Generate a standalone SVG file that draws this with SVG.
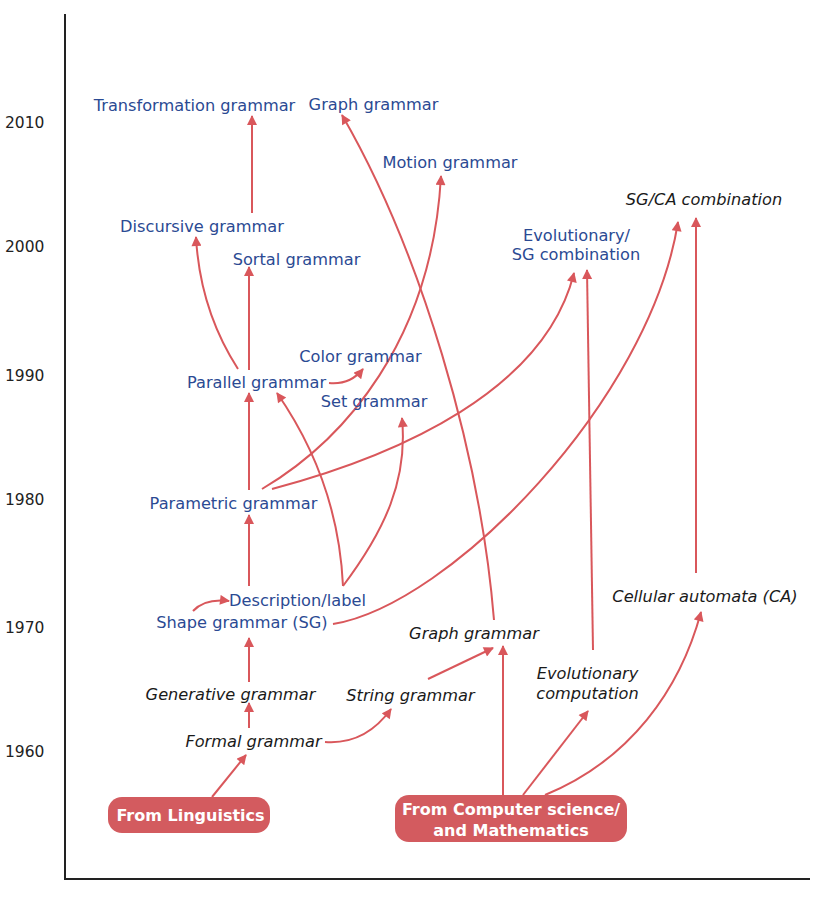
<svg xmlns="http://www.w3.org/2000/svg" width="830" height="898" viewBox="0 0 830 898">
<style>
.yr{font-family:"DejaVu Sans",Verdana,sans-serif;font-size:15.5px;fill:#222}
.b{font-family:"DejaVu Sans",Verdana,sans-serif;font-size:16.2px;fill:#2b4a93;text-anchor:middle}
.i{font-family:"DejaVu Sans",Verdana,sans-serif;font-size:16.2px;font-style:italic;fill:#1a1a1a;text-anchor:middle}
.w{font-family:"DejaVu Sans",Verdana,sans-serif;font-size:16px;font-weight:bold;fill:#fff;text-anchor:middle}
.box{fill:#d35b5f}
.c{fill:none;stroke:#d9575b;stroke-width:2;marker-end:url(#ah)}
.ax{stroke:#222;stroke-width:2;fill:none}
</style>
<defs>
<marker id="ah" viewBox="0 0 10 10" refX="9" refY="5" markerWidth="12" markerHeight="10" markerUnits="userSpaceOnUse" orient="auto">
<path d="M0,0 L10,5 L0,10 z" fill="#d9575b"/>
</marker>
</defs>
<g id="axes">
<path class="ax" d="M65,14 L65,879 L810,879"/>
<text class="yr" x="5" y="128">2010</text>
<text class="yr" x="5" y="252">2000</text>
<text class="yr" x="5" y="381">1990</text>
<text class="yr" x="5" y="505">1980</text>
<text class="yr" x="5" y="633">1970</text>
<text class="yr" x="5" y="757">1960</text>
</g>
<g id="connectors">
<path class="c" d="M212,797 L246,755"/>
<path class="c" d="M249,728 L249,703"/>
<path class="c" d="M249,682 L249,638"/>
<path class="c" d="M193,611 Q205,598 229,601"/>
<path class="c" d="M249,586 L249,515"/>
<path class="c" d="M249,490 L249,393"/>
<path class="c" d="M249,370 L249,267"/>
<path class="c" d="M238,369 Q200,310 196,237"/>
<path class="c" d="M252,213 L252,116"/>
<path class="c" d="M329,383 Q350,385 363,369"/>
<path class="c" d="M262,489 C345,440 432,340 441,176"/>
<path class="c" d="M272,489 C400,455 545,390 574,273"/>
<path class="c" d="M343,586 C340,520 320,455 277,393"/>
<path class="c" d="M343,586 C385,530 408,480 402,418"/>
<path class="c" d="M333,624 C450,605 650,400 678,222"/>
<path class="c" d="M494,620 C480,450 420,250 342,115"/>
<path class="c" d="M325,742 Q365,745 391,709"/>
<path class="c" d="M428,679 L493,648"/>
<path class="c" d="M503,795 L503,646"/>
<path class="c" d="M523,795 L588,711"/>
<path class="c" d="M545,795 C630,760 680,690 701,612"/>
<path class="c" d="M593,650 L587,270"/>
<path class="c" d="M696,573 L696,218"/>
</g>
<g id="n-transformation"><text class="b" x="194.5" y="110.5">Transformation grammar</text></g>
<g id="n-graph-blue"><text class="b" x="373.5" y="109.5">Graph grammar</text></g>
<g id="n-motion"><text class="b" x="450" y="167.5">Motion grammar</text></g>
<g id="n-sgca"><text class="i" x="704" y="204.5">SG/CA combination</text></g>
<g id="n-discursive"><text class="b" x="202" y="231.5">Discursive grammar</text></g>
<g id="n-evosg"><text class="b" x="576.5" y="240.5">Evolutionary/</text><text class="b" x="576" y="259.5">SG combination</text></g>
<g id="n-sortal"><text class="b" x="296.5" y="264.5">Sortal grammar</text></g>
<g id="n-color"><text class="b" x="360.5" y="361.5">Color grammar</text></g>
<g id="n-parallel"><text class="b" x="256.5" y="387.5">Parallel grammar</text></g>
<g id="n-set"><text class="b" x="374" y="406.5">Set grammar</text></g>
<g id="n-parametric"><text class="b" x="233.5" y="508.5">Parametric grammar</text></g>
<g id="n-description"><text class="b" x="297.5" y="605.5">Description/label</text></g>
<g id="n-shape"><text class="b" x="242" y="627.5">Shape grammar (SG)</text></g>
<g id="n-graph"><text class="i" x="474" y="638.5">Graph grammar</text></g>
<g id="n-cellular"><text class="i" x="705" y="601.5">Cellular automata (CA)</text></g>
<g id="n-evocomp"><text class="i" x="587.5" y="678.5">Evolutionary</text><text class="i" x="587.5" y="698.5">computation</text></g>
<g id="n-generative"><text class="i" x="230.5" y="699.5">Generative grammar</text></g>
<g id="n-string"><text class="i" x="410.5" y="700.5">String grammar</text></g>
<g id="n-formal"><text class="i" x="253.5" y="746.5">Formal grammar</text></g>
<g id="n-linguistics"><rect class="box" x="108" y="797" width="162" height="36" rx="14"/><text class="w" x="190.5" y="820.5">From Linguistics</text></g>
<g id="n-cs"><rect class="box" x="395" y="795" width="232" height="47" rx="14"/><text class="w" x="511" y="814.5">From Computer science/</text><text class="w" x="511" y="835.5">and Mathematics</text></g>
</svg>
